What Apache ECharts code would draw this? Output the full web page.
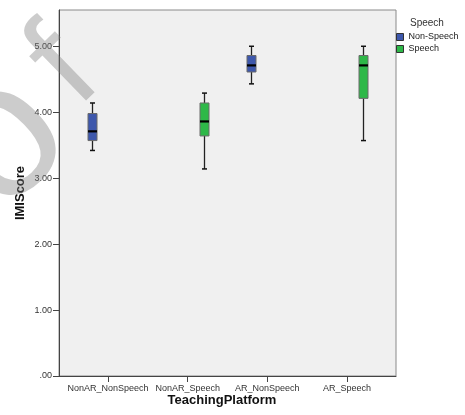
<!DOCTYPE html>
<html>
<head>
<meta charset="utf-8">
<script src="https://cdn.jsdelivr.net/npm/echarts@6/dist/echarts.min.js"></script>
<style>html,body{margin:0;padding:0;background:#fff}#c{width:465px;height:415px}</style>
</head>
<body>
<div id="c"></div>
<script>
// ---- data ----
const categories = ['NonAR_NonSpeech', 'NonAR_Speech', 'AR_NonSpeech', 'AR_Speech'];
const groupNames = ['Non-Speech', 'Speech'];
// [whisker low, Q1, median, Q3, whisker high]; null = no box for that group
const nonSpeechBoxes = [[3.42, 3.57, 3.71, 3.98, 4.14], null, [4.43, 4.61, 4.71, 4.86, 5.00], null];
const speechBoxes = [null, [3.14, 3.64, 3.86, 4.14, 4.29], null, [3.57, 4.21, 4.71, 4.86, 5.00]];
const yTicks = [0, 1, 2, 3, 4, 5];

const FONT = '"Liberation Sans", Arial, sans-serif';
const colors = ['#3e58ac', '#2eb848'];
const groupOffset = [-0.2, 0.2];

function toData(boxes) {
  const out = [];
  boxes.forEach((b, i) => { if (b) out.push([i + 1].concat(b)); });
  return out;
}

function makeRender(gi) {
  return function (params, api) {
    const xv = api.value(0) + groupOffset[gi];
    const lo = api.coord([xv, api.value(1)]);
    const q1 = api.coord([xv, api.value(2)]);
    const md = api.coord([xv, api.value(3)]);
    const q3 = api.coord([xv, api.value(4)]);
    const hi = api.coord([xv, api.value(5)]);
    const cx = Math.round(lo[0]) + 0.5;
    const hw = 4.5, cw = 2.5;
    const ln = (x1, y1, x2, y2, w, c) => ({
      type: 'line', shape: { x1, y1, x2, y2 },
      style: { stroke: c, lineWidth: w }
    });
    return {
      type: 'group',
      children: [
        ln(cx, hi[1], cx, q3[1], 1.3, '#222'),
        ln(cx, q1[1], cx, lo[1], 1.3, '#222'),
        ln(cx - cw, hi[1], cx + cw, hi[1], 1.5, '#111'),
        ln(cx - cw, lo[1], cx + cw, lo[1], 1.5, '#111'),
        {
          type: 'rect',
          shape: { x: cx - hw, y: q3[1], width: hw * 2, height: q1[1] - q3[1] },
          style: { fill: colors[gi], stroke: '#6a6a6a', lineWidth: 1 }
        },
        ln(cx - hw, md[1], cx + hw, md[1], 2.2, '#000')
      ]
    };
  };
}

const chart = echarts.init(document.getElementById('c'), null, { renderer: 'canvas' });
const wmStyle = { fontFamily: FONT, fill: 'rgba(120,120,120,0.38)', align: 'center', verticalAlign: 'middle' };
chart.setOption({
  animation: false,
  backgroundColor: '#fff',
  textStyle: { fontFamily: FONT },
  title: {
    text: 'Speech', left: 410, top: 18, padding: 0,
    textStyle: { fontSize: 10, fontWeight: 'normal', color: '#333', fontFamily: FONT }
  },
  legend: {
    orient: 'vertical', left: 396, top: 31, padding: 0,
    itemWidth: 7, itemHeight: 7, itemGap: 0, icon: 'rect', selectedMode: false,
    itemStyle: { borderColor: '#333', borderWidth: 1 },
    textStyle: { fontSize: 9, color: '#222', lineHeight: 12, fontFamily: FONT },
    data: groupNames
  },
  grid: {
    left: 59, top: 10, right: 69, bottom: 39,
    show: true, backgroundColor: '#f0f0f0', borderColor: '#8a8a8a', borderWidth: 1,
    outerBoundsMode: 'none'
  },
  xAxis: {
    type: 'value', min: 0.385, max: 4.615,
    name: 'TeachingPlatform', nameLocation: 'middle', nameGap: 17.5, nameMoveOverlap: false,
    nameTextStyle: { fontSize: 13, fontWeight: 'bold', color: '#111', fontFamily: FONT, padding: [0, 11, 0, 0] },
    axisLine: { show: true, lineStyle: { color: '#444', width: 1 } },
    axisTick: { show: true, length: 6, lineStyle: { color: '#444' }, customValues: [1, 2, 3, 4] },
    axisLabel: {
      show: true, fontSize: 9, color: '#333', margin: 8, fontFamily: FONT,
      customValues: [1, 2, 3, 4],
      formatter: v => categories[Math.round(v) - 1] || ''
    },
    splitLine: { show: false }
  },
  yAxis: {
    type: 'value', min: 0, max: 5.55,
    name: 'IMIScore', nameLocation: 'middle', nameGap: 32, nameMoveOverlap: false,
    nameTextStyle: { fontSize: 13, fontWeight: 'bold', color: '#111', fontFamily: FONT },
    axisLine: { show: true, lineStyle: { color: '#444', width: 1 } },
    axisTick: { show: true, length: 6, lineStyle: { color: '#444' }, customValues: yTicks },
    axisLabel: {
      show: true, fontSize: 9, color: '#333', margin: 7, fontFamily: FONT,
      customValues: yTicks,
      formatter: v => v === 0 ? '.00' : v.toFixed(2)
    },
    splitLine: { show: false }
  },
  series: [
    {
      name: groupNames[0], type: 'custom', renderItem: makeRender(0),
      itemStyle: { color: colors[0] },
      encode: { x: 0, y: [1, 2, 3, 4, 5] },
      data: toData(nonSpeechBoxes)
    },
    {
      name: groupNames[1], type: 'custom', renderItem: makeRender(1),
      itemStyle: { color: colors[1] },
      encode: { x: 0, y: [1, 2, 3, 4, 5] },
      data: toData(speechBoxes)
    }
  ],
  graphic: [
    {
      type: 'text', x: 3, y: 142, rotation: 0.77, z: 100, silent: true,
      style: Object.assign({ text: 'o', fontSize: 190 }, wmStyle)
    },
    {
      type: 'text', x: 65, y: 69, rotation: 0.77, z: 100, silent: true,
      style: Object.assign({ text: 'f', fontSize: 135 }, wmStyle)
    }
  ]
});
</script>
</body>
</html>
